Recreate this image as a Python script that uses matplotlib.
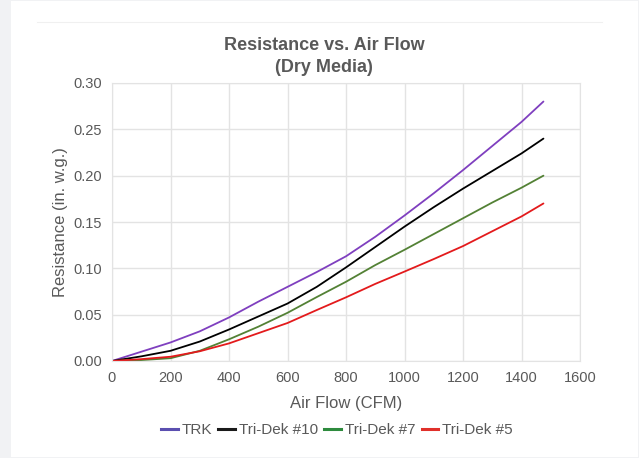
import matplotlib.pyplot as plt
from matplotlib.patches import Rectangle

# Data
air_flow = [0, 100, 200, 300, 400, 500, 600, 700, 800, 900, 1000, 1100, 1200, 1300, 1400, 1475]
trk = [0, 0.010, 0.020, 0.032, 0.047, 0.064, 0.080, 0.096, 0.113, 0.134, 0.157, 0.181, 0.206, 0.232, 0.258, 0.280]
tridek_10 = [0, 0.005, 0.011, 0.021, 0.034, 0.048, 0.062, 0.080, 0.101, 0.123, 0.145, 0.166, 0.186, 0.205, 0.224, 0.240]
tridek_7 = [0, 0.001, 0.003, 0.011, 0.0234, 0.037, 0.052, 0.069, 0.0855, 0.1035, 0.120, 0.137, 0.154, 0.171, 0.187, 0.200]
tridek_5 = [0, 0.002, 0.0046, 0.0105, 0.019, 0.030, 0.041, 0.055, 0.0687, 0.0832, 0.0965, 0.110, 0.124, 0.140, 0.156, 0.170]

series = [
    ("TRK", trk, "#7f3fbf"),
    ("Tri-Dek #10", tridek_10, "#000000"),
    ("Tri-Dek #7", tridek_7, "#538135"),
    ("Tri-Dek #5", tridek_5, "#e31a1c"),
]
legend_colors = ["#5b4fb0", "#1a1a1a", "#2e8b3e", "#e0302a"]

x_ticks = [0, 200, 400, 600, 800, 1000, 1200, 1400, 1600]
y_ticks = [0.00, 0.05, 0.10, 0.15, 0.20, 0.25, 0.30]

plt.rcParams['font.family'] = ['Liberation Sans', 'DejaVu Sans']
text_gray = "#595959"

fig = plt.figure(figsize=(6.39, 4.58), dpi=100)
fig.patch.set_facecolor("#f1f2f4")
fig.patches.append(Rectangle((11 / 639, 1 / 458), 627 / 639, 456 / 458,
                             transform=fig.transFigure, facecolor="white",
                             edgecolor="none", zorder=-5))
fig.lines.append(plt.Line2D([37 / 639, 602 / 639], [1 - 22 / 458] * 2,
                            transform=fig.transFigure, color="#f0f0f0", lw=0.8, zorder=-4))

ax = fig.add_axes([112 / 639, 1 - 361 / 458, 468 / 639, 278 / 458])
ax.set_zorder(2)
ax.set_facecolor("white")

for name, vals, color in series:
    ax.plot(air_flow, vals, color=color, lw=1.3, label=name,
            solid_joinstyle="round", solid_capstyle="round")

ax.set_xlim(0, 1600)
ax.set_ylim(0, 0.30)
ax.set_xticks(x_ticks)
ax.set_yticks(y_ticks)
ax.set_yticklabels([f"{v:.2f}" for v in y_ticks])
ax.tick_params(length=0, labelsize=10.5, colors=text_gray, pad=7)
ax.grid(True, color="#e3e3e3", lw=1)
ax.set_axisbelow(True)
for s in ax.spines.values():
    s.set_color("#e3e3e3")

ax.set_xlabel("Air Flow (CFM)", fontsize=12, color=text_gray, labelpad=8)
ax.set_ylabel("Resistance (in. w.g.)", fontsize=12, color=text_gray, labelpad=4)

fig.text(324 / 639, 1 - 45 / 458, "Resistance vs. Air Flow", ha="center", va="center",
         fontsize=13, fontweight="bold", color=text_gray)
fig.text(324 / 639, 1 - 67 / 458, "(Dry Media)", ha="center", va="center",
         fontsize=13, fontweight="bold", color=text_gray)

handles = [plt.Line2D([], [], color=c, lw=2.2) for c in legend_colors]
fig.legend(handles, [s[0] for s in series], loc="center", bbox_to_anchor=(337 / 639, 1 - 430 / 458),
           ncol=4, frameon=False, fontsize=11, handlelength=1.1, handletextpad=0.25,
           columnspacing=0.4, labelcolor=text_gray)

fig.savefig("out.png", dpi=100, facecolor=fig.get_facecolor())
